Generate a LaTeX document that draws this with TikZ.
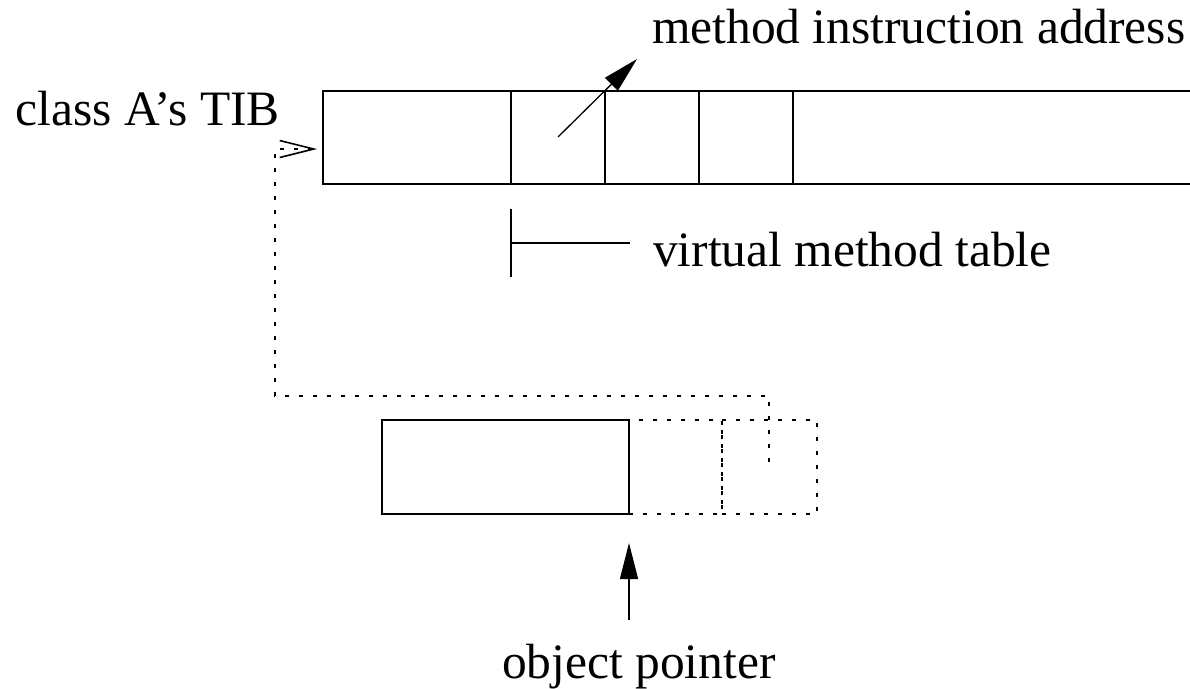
\documentclass[tikz,border=0pt]{standalone}
\usepackage{fontspec}
\setmainfont{Liberation Serif}
\usetikzlibrary{arrows.meta}
\begin{document}
\begin{tikzpicture}[x=1pt,y=-1pt,
  every node/.style={inner sep=0pt,outer sep=0pt},
  ln/.style={line width=1.3pt},
  cell/.style={ln,draw,minimum width=94pt,minimum height=93pt,anchor=north west},
  dcell/.style={line width=1.3pt,draw,dash pattern=on 4pt off 10pt,minimum width=94pt,minimum height=94pt,anchor=north west},
  lbl/.style={anchor=base west,font=\fontsize{49.5}{58}\selectfont},
  solidarrow/.style={ln,-{Triangle[length=36pt,width=18pt]}},
  openarrow/.style={line width=1.3pt,dash pattern=on 4pt off 10pt,-{Straight Barb[length=34pt,width=17pt,line width=1.6pt]}}]
\useasboundingbox (0,0) rectangle (1190,688);
% top TIB array
\node[cell,minimum width=188pt] (tib0) at (323,91) {};
\node[cell] (v1) at (511,91) {};
\node[cell] (v2) at (605,91) {};
\node[cell] (v3) at (699,91) {};
\node[minimum width=397pt,minimum height=93pt,anchor=north west] (rest) at (793,91) {};
\draw[ln] (rest.north east) -- (rest.north west) -- (rest.south west) -- (rest.south east);
% labels
\node[lbl] (mia) at (652,43) {method instruction address};
\node[lbl] (tibl) at (16,125) {class A’s TIB};
\node[lbl] (vmtl) at (653,266) {virtual method table};
\node[lbl] (opl) at (502,678) {object pointer};
% method address arrow
\coordinate (ma0) at (558,137);
\coordinate (ma1) at (637,59);
\draw[solidarrow] (ma0) -- (ma1);
% virtual method table bracket
\coordinate (vb0) at (511,209);
\coordinate (vb1) at (511,277);
\coordinate (vbm) at (511,243);
\coordinate (vbe) at (630,243);
\draw[ln] (vb0) -- (vb1);
\draw[ln] (vbm) -- (vbe);
% object
\node[cell,minimum width=247pt,minimum height=94pt] (obj) at (382,420) {};
\node[dcell,minimum width=93pt] (d1) at (629,420) {};
\node[dcell,minimum width=95pt] (d2) at (722,420) {};
% dotted pointer to TIB
\coordinate (p0) at (769,462);
\coordinate (p1) at (769,396);
\coordinate (p2) at (275,396);
\coordinate (p3) at (275,149);
\coordinate (p4) at (317,149);
\draw[openarrow] (p0) -- (p1) -- (p2) -- (p3) -- (p4);
% object pointer arrow
\coordinate (op0) at (629,620);
\coordinate (op1) at (629,543);
\draw[solidarrow] (op0) -- (op1);
\end{tikzpicture}
\end{document}
